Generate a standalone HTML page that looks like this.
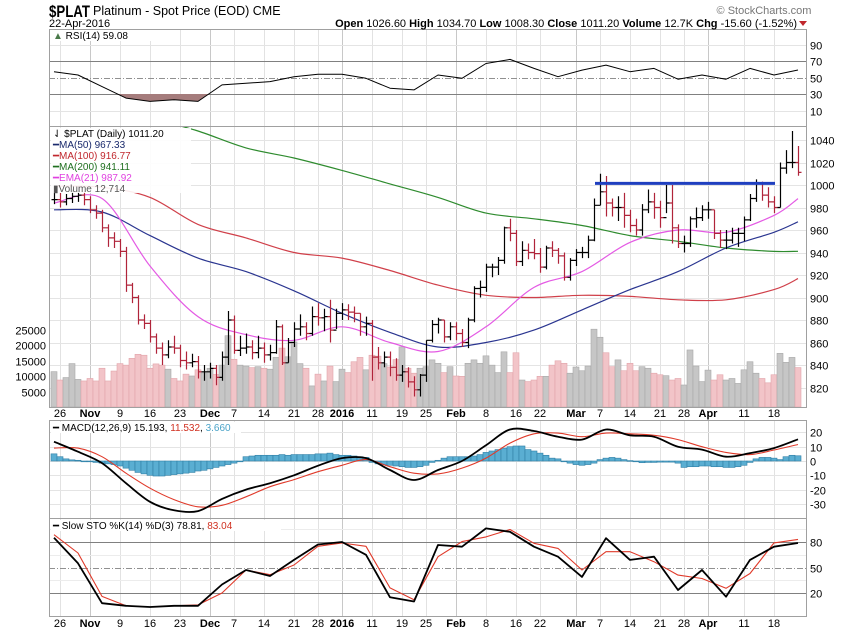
<!DOCTYPE html>
<html><head><meta charset="utf-8"><style>
html,body{margin:0;padding:0;background:#fff;}
svg{display:block;font-family:"Liberation Sans",Arial,sans-serif;}
</style></head><body>
<svg id="chart" width="850" height="633" viewBox="0 0 850 633" xmlns="http://www.w3.org/2000/svg">
<defs>
<clipPath id="pclip"><rect x="49" y="126" width="757" height="281"/></clipPath>
</defs>
<rect width="850" height="633" fill="#fff"/>
<g id="grid"></g>
<g id="marks"></g>
<g id="frames" fill="none" stroke="#a0a0a0" stroke-width="1">
<rect x="49.5" y="29.5" width="757" height="97"/>
<rect x="49.5" y="126.5" width="757" height="281"/>
<rect x="49.5" y="420.5" width="757" height="98"/>
<rect x="49.5" y="518.5" width="757" height="98"/>
</g>
<g>
<text x="49" y="17" font-size="17" font-weight="bold" textLength="41" lengthAdjust="spacingAndGlyphs">$PLAT</text>
<text x="93" y="15" font-size="12.5">Platinum  - Spot Price (EOD)  CME</text>
<text x="49" y="27" font-size="11">22-Apr-2016</text>
<text x="764" y="14" font-size="11" fill="#777" text-anchor="middle">© StockCharts.com</text>
<text x="797" y="27" font-size="11" text-anchor="end"><tspan font-weight="bold">Open</tspan> 1026.60  <tspan font-weight="bold">High</tspan> 1034.70  <tspan font-weight="bold">Low</tspan> 1008.30  <tspan font-weight="bold">Close</tspan> 1011.20  <tspan font-weight="bold">Volume</tspan> 12.7K  <tspan font-weight="bold">Chg</tspan> -15.60 (-1.52%)</text>
<path d="M799 21 L807 21 L803 26 Z" fill="#c0272d"/>
</g>
<g id="legends" font-size="10">
<rect x="51" y="30" width="100" height="11" fill="#fff"/>
<text x="53" y="39"><tspan fill="#4a7a4a">▲</tspan> RSI(14) 59.08</text>
<rect x="51" y="128" width="140" height="65" fill="#fff" opacity="0.9"/>
<text x="53" y="137">⇃ $PLAT (Daily) 1011.20</text>
<text x="53" y="148" fill="#1a2a6c">━MA(50) 967.33</text>
<text x="53" y="159" fill="#c0272d">━MA(100) 916.77</text>
<text x="53" y="170" fill="#1f6f1f">━MA(200) 941.11</text>
<text x="53" y="181" fill="#e040e0">━EMA(21) 987.92</text>
<text x="53" y="192" fill="#555">▮Volume 12,714</text>
<rect x="51" y="422" width="190" height="11" fill="#fff"/>
<text x="53" y="431">━ MACD(12,26,9) 15.193, <tspan fill="#d03020">11.532</tspan>, <tspan fill="#4aa3c8">3.660</tspan></text>
<rect x="51" y="520" width="230" height="11" fill="#fff"/>
<text x="53" y="529">━ Slow STO %K(14) %D(3) 78.81, <tspan fill="#d03020">83.04</tspan></text>
</g>
<g id="axes" font-size="11"></g>
</svg>
<script>
// ---- data ----
const closes = [987,985,988,990,991,987,978,975,962,953,950,941,911,900,880,877,865,855,849,856,855,844,842,843,834,834,837,829,847,880,853,855,856,851,855,849,851,874,842,860,872,874,868,883,882,883,871,886,889,887,886,874,877,847,842,847,838,831,834,825,818,831,862,876,880,865,874,868,860,880,908,909,927,927,933,962,957,932,942,940,939,927,944,942,937,918,933,940,940,951,982,994,984,980,980,973,964,960,978,985,980,971,984,962,948,948,970,971,978,978,957,951,951,957,957,969,988,1002,991,985,980,1015,1020,1020,1011.2];
const highs = [995,993,992,996,998,995,990,982,978,965,958,952,945,913,902,885,880,868,860,862,866,858,852,850,848,840,842,840,852,888,884,866,868,862,866,860,858,880,876,864,878,885,878,892,895,890,898,890,895,894,892,886,883,880,856,852,852,846,840,838,830,832,862,880,882,880,878,878,872,882,910,915,930,930,936,963,970,960,950,948,952,944,946,950,944,940,935,943,945,955,988,1010,1008,988,990,993,978,970,983,996,993,986,1000,1000,965,955,972,980,982,985,978,960,960,962,962,972,992,1005,1003,998,990,1020,1031,1048,1034.7];
const lows = [983,980,982,984,985,982,975,970,958,945,944,936,905,895,876,872,860,850,840,846,850,838,836,838,828,826,828,822,826,840,850,848,850,845,846,842,844,850,840,842,856,866,862,866,875,870,860,872,880,880,878,866,866,826,836,838,830,826,825,820,812,812,825,860,868,860,862,862,856,855,878,900,905,918,920,930,950,928,928,934,934,922,925,936,930,915,915,928,935,935,950,982,972,972,968,962,958,955,955,975,970,962,975,948,944,940,945,962,968,970,952,944,943,948,945,950,968,985,986,980,975,980,1010,1015,1008.3];
const volumes = [11400,8700,9500,14000,8900,8400,9200,8400,12500,8400,11600,14000,13500,15700,17000,16700,12500,13900,13500,12200,9200,8400,10600,10000,12000,11000,12500,10500,13500,23000,15400,13500,13200,12700,13000,12500,12200,16000,19000,16200,21000,14000,12500,6800,10600,8400,13200,8200,12200,11100,14600,16000,12000,16700,16400,14000,12900,15300,19400,12500,10900,12500,13000,15200,14100,11100,13000,10000,9900,14100,15200,14100,16500,13500,11100,17800,11100,17500,8700,8200,8700,9900,9900,13500,14900,14100,10900,12900,11700,13200,25100,22500,17500,13000,15200,11700,14100,11700,13000,12500,10900,10400,10100,8700,9200,7100,18400,13200,8200,11900,8700,10400,8700,9200,7600,12000,14600,10900,9200,7800,10400,17300,14400,16000,12714];
// moving averages sampled every 8 bars (last sample = last bar)
const ma50 = [978,976,955,935,923,906,886,869,856,860,871,889,907,923,944,958,967.33];
const ma100 = [999,998,989,965,953,940,935,924,911,902,900,902,901,898,898,907,916.77];
const ma200 = [1089,1076,1060,1048,1033,1024,1013,1001,989,975,970,964,955,950,944,941,941.11];
const ema21 = [984,988,928,883,867,862,874,860,852,874,909,923,949,960,958,973,987.92];
// indicators sampled every 4 bars
const rsi = [57,53,39,25,21,23,21,41,43,45,51,54,54,49,37,35,53,49,67,72,61,51,59,65,57,61,48,53,48,61,53,59.08];
const macdLine = [13.5,6.5,-1.5,-15.5,-28.5,-34.5,-35,-26.5,-20,-15.5,-10,-3.3,2,2,-6.3,-13.3,-6.3,0,11,22,21,17,15,22,18,17,10,8,3,5.5,9,15.193];
const signalLine = [9,9,3,-8.5,-19,-27,-32,-31,-25,-18,-13,-7.5,-3,1,-4,-8.5,-9,-5,2,12.5,19,19.5,17,19.5,19,18,15,10,6,4.5,7.7,11.532];
const histogram = [5,3,1.5,0.8,0.5,0,-0.5,-1,-1.5,-2,-2.5,-3.5,-5,-6.5,-8,-9,-10,-10.5,-10.5,-10,-9.5,-9,-8.5,-8,-7,-6.5,-5.5,-4.5,-3.5,-2.5,-1.5,0,3,3.5,4,4,4,4,4.5,4,4.5,4.5,4.5,4.5,5,5,5.5,4.5,4,4,3.5,3,2.5,-1,-2,-2.5,-3,-3.5,-4,-4.5,-4.5,-4,-3,-1,0.5,2,3,3,3,3,3.5,4.5,6,7,8,9,10,10.5,10.5,8,7,5.5,4,2,1.5,-0.5,-1.5,-2.5,-3,-2.5,-1.5,1,2,2.5,2,1,0.3,-0.5,-1.2,-1,-1,-0.8,-0.8,-0.8,-1.5,-4.5,-4,-4,-3.5,-3.5,-4,-4,-4.5,-4.5,-4,-3,-1,1.5,2.5,2.5,2,1,3,4,3.66];
const stoK = [85,55,8,5,3.5,5,5,30,47,40,59,77,80,65,15,10,76.5,74.5,96,92,74.5,62.7,39,84.5,59,62.7,23.5,47,15.7,59,74.5,78.81];
const stoD = [88.6,67,16,5,3.5,5,6,20,47,41.5,53,75,78.8,75,26,12,62.7,80.5,86,94.7,78.5,72.5,47,68.6,68.6,56.8,41,37,25.5,43,79,83.04];
const priceTicks = [820,840,860,880,900,920,940,960,980,1000,1020,1040];
const volTicks = [5000,10000,15000,20000,25000];
const rsiTicks = [10,30,50,70,90];
const macdTicks = [-30,-20,-10,0,10,20];
const stoTicks = [20,50,80];
const resistance = 1001.5;
const resistanceFrom = 91, resistanceTo = 122;
const holidays = ["2015-11-26","2015-12-25","2016-01-01","2016-01-18","2016-02-15","2016-03-25"];

// ---- scales ----
const N = closes.length;
const xOf = i => 798 - (N - 1 - i) * 6;
const pY = p => 185 + (1000 - p) * 1.125;
const vY = v => 407 - v * 0.0031;
const rY = v => 77.5 - (v - 50) * 0.825;
const mY = v => 461 - v * 1.43;
const sY = v => 567.5 - (v - 50) * 0.85;
const ma8 = k => Math.min(k * 8, N - 1);
const s4 = k => Math.min(k * 4, N - 1);

const NS = "http://www.w3.org/2000/svg";
function mk(tag, attrs, parent) {
  const e = document.createElementNS(NS, tag);
  for (const k in attrs) e.setAttribute(k, attrs[k]);
  parent.appendChild(e);
  return e;
}
const grid = document.getElementById('grid');
const marks = document.getElementById('marks');
const axes = document.getElementById('axes');

// ---- trading dates ----
const dates = [];
{
  const d = new Date(Date.UTC(2016, 3, 22));
  while (dates.length < N) {
    const wd = d.getUTCDay();
    const s = d.toISOString().slice(0, 10);
    if (wd !== 0 && wd !== 6 && holidays.indexOf(s) < 0) dates.unshift(new Date(d.getTime()));
    d.setUTCDate(d.getUTCDate() - 1);
  }
}
const monthNames = ["Jan","Feb","Mar","Apr","May","Jun","Jul","Aug","Sep","Oct","Nov","Dec"];
const labels = [];
const monthIdx = [];
for (let i = 1; i < N; i++) {
  if (dates[i].getUTCMonth() !== dates[i - 1].getUTCMonth()) monthIdx.push(i);
}
for (let i = 1; i < N; i++) {
  const isMonth = monthIdx.indexOf(i) >= 0;
  const weekStart = dates[i].getUTCDay() < dates[i - 1].getUTCDay();
  if (isMonth) {
    const m = dates[i].getUTCMonth();
    labels.push({i: i, t: m === 0 ? String(dates[i].getUTCFullYear()) : monthNames[m], bold: true});
  } else if (weekStart) {
    if (monthIdx.some(j => Math.abs(j - i) <= 3)) continue;
    labels.push({i: i, t: String(dates[i].getUTCDate()), bold: false});
  }
}

// ---- grid ----
const panels = [[29, 126], [126, 407], [420, 518], [518, 616]];
labels.forEach(l => {
  panels.forEach(p => {
    const g = mk('line', {x1: xOf(l.i) + 0.5, x2: xOf(l.i) + 0.5, y1: p[0], y2: p[1], stroke: l.bold ? '#c8c8c8' : '#e2e2e2'}, grid);
    
    
  });
});
priceTicks.forEach(t => {
  const y = Math.round(pY(t)) + 0.5;
  const g = mk('line', {x1: 49, x2: 806, y1: y, y2: y, stroke: '#e4e4e4'}, grid);
  
  
  const tx = mk('text', {x: 810, y: y + 4, 'font-size': 11}, axes);
  tx.textContent = t;
  
  
});
volTicks.forEach(t => {
  const y = Math.round(vY(t)) + 0.5;
  const tx = mk('text', {x: 46, y: y + 4, 'font-size': 11, 'text-anchor': 'end'}, axes);
  tx.textContent = t;
  
  
});
rsiTicks.forEach(t => {
  const y = Math.round(rY(t)) + 0.5;
  const strong = (t === 30 || t === 70);
  const g = mk('line', {x1: 49, x2: 806, y1: y, y2: y, stroke: strong ? '#808080' : (t === 50 ? '#909090' : '#e4e4e4'), 'stroke-dasharray': t === 50 ? '6,2,1,2' : 'none'}, grid);
  
  
  const tx = mk('text', {x: 810, y: y + 4, 'font-size': 11}, axes);
  tx.textContent = t;
  
  
});
macdTicks.forEach(t => {
  const y = Math.round(mY(t)) + 0.5;
  const g = mk('line', {x1: 49, x2: 806, y1: y, y2: y, stroke: '#e4e4e4'}, grid);
  
  
  const tx = mk('text', {x: 810, y: y + 4, 'font-size': 11}, axes);
  tx.textContent = t;
  
  
});
[35, 65, 95].forEach(t => {
  const y = Math.round(sY(t)) + 0.5;
  mk('line', {x1: 49, x2: 806, y1: y, y2: y, stroke: '#ececec'}, grid);
});
stoTicks.forEach(t => {
  const y = Math.round(sY(t)) + 0.5;
  const g = mk('line', {x1: 49, x2: 806, y1: y, y2: y, stroke: t === 50 ? '#909090' : '#808080', 'stroke-dasharray': t === 50 ? '6,2,1,2' : 'none'}, grid);
  
  
  const tx = mk('text', {x: 810, y: y + 4, 'font-size': 11}, axes);
  tx.textContent = t;
  
  
});
// date labels
labels.forEach(l => {
  [417, 627].forEach(y => {
    const tx = mk('text', {x: xOf(l.i), y: y, 'font-size': 11, 'text-anchor': 'middle', 'font-weight': l.bold ? 'bold' : 'normal'}, axes);
    tx.textContent = l.t;
    
    
  });
});

// ---- helpers ----
function line(vals, idxFn, yFn, color, width, parent, name) {
  const pts = vals.map((v, k) => xOf(idxFn(k)) + ',' + yFn(v).toFixed(1)).join(' ');
  const l = mk('polyline', {points: pts, fill: 'none', stroke: color, 'stroke-width': width, 'stroke-linejoin': 'round'}, parent);
  
  
  return l;
}
function curve(vals, idxFn, yFn, color, width, parent, name) {
  const p = vals.map((v, k) => [xOf(idxFn(k)), yFn(v)]);
  let d = 'M' + p[0][0] + ' ' + p[0][1].toFixed(1);
  for (let k = 0; k < p.length - 1; k++) {
    const p0 = p[Math.max(0, k - 1)], p1 = p[k], p2 = p[k + 1], p3 = p[Math.min(p.length - 1, k + 2)];
    const c1x = p1[0] + (p2[0] - p0[0]) / 6, c1y = p1[1] + (p2[1] - p0[1]) / 6;
    const c2x = p2[0] - (p3[0] - p1[0]) / 6, c2y = p2[1] - (p3[1] - p1[1]) / 6;
    d += 'C' + c1x.toFixed(1) + ' ' + c1y.toFixed(1) + ' ' + c2x.toFixed(1) + ' ' + c2y.toFixed(1) + ' ' + p2[0] + ' ' + p2[1].toFixed(1);
  }
  const l = mk('path', {d: d, fill: 'none', stroke: color, 'stroke-width': width}, parent);
  
  
  return l;
}

// ---- price panel ----
const pg = mk('g', {'clip-path': 'url(#pclip)'}, marks);
for (let i = 0; i < N; i++) {
  const down = i > 0 && closes[i] < closes[i - 1];
  const r = mk('rect', {x: xOf(i) - 3, y: vY(volumes[i]), width: 6, height: 407 - vY(volumes[i]), fill: down ? '#f2c4c8' : '#c6c6c6', stroke: down ? '#e2a4aa' : '#a8a8a8', 'stroke-width': 0.6}, pg);
  
  
}
curve(ma200, ma8, pY, '#2e8b2e', 1.2, pg, 'ma200-line');
curve(ma100, ma8, pY, '#d0404a', 1.2, pg, 'ma100-line');
curve(ma50, ma8, pY, '#2a3590', 1.2, pg, 'ma50-line');
curve(ema21, ma8, pY, '#e45ae4', 1.2, pg, 'ema21-line');
for (let i = 0; i < N; i++) {
  const down = i > 0 && closes[i] < closes[i - 1];
  const col = down ? '#b0243a' : '#000';
  const x = xOf(i) + 0.5;
  const open = i > 0 ? closes[i - 1] : closes[i];
  const b = mk('path', {d: 'M' + x + ' ' + pY(highs[i]).toFixed(1) + 'V' + pY(lows[i]).toFixed(1) + 'M' + (x - 3) + ' ' + pY(open).toFixed(1) + 'H' + x + 'M' + x + ' ' + pY(closes[i]).toFixed(1) + 'H' + (x + 3), stroke: col, 'stroke-width': 1.2, fill: 'none'}, pg);
  
  
}
const rl = mk('line', {x1: xOf(resistanceFrom) - 5, x2: xOf(resistanceTo) - 11, y1: pY(resistance), y2: pY(resistance), stroke: '#1f3fbf', 'stroke-width': 3}, pg);



// ---- RSI ----
{
  const pts = rsi.map((v, k) => [xOf(s4(k)), rY(v)]);
  let d = '';
  const y30 = rY(30);
  for (let k = 0; k < pts.length - 1; k++) {
    const a = rsi[k], b = rsi[k + 1];
    if (a < 30 || b < 30) {
      const [x0, y0] = pts[k], [x1, y1] = pts[k + 1];
      let xs = x0, xe = x1;
      if (a >= 30) xs = x0 + (x1 - x0) * (a - 30) / (a - b);
      if (b >= 30) xe = x0 + (x1 - x0) * (30 - a) / (b - a);
      const ya = a < 30 ? y0 : y30, yb = b < 30 ? y1 : y30;
      d += 'M' + xs + ' ' + y30 + 'L' + xs + ' ' + ya + 'L' + xe + ' ' + yb + 'L' + xe + ' ' + y30 + 'Z';
    }
  }
  const f = mk('path', {d: d, fill: '#a57c7c', stroke: 'none'}, marks);
  
  
  line(rsi, s4, rY, '#000', 1, marks, 'rsi-line');
}

// ---- MACD ----
for (let i = 0; i < N; i++) {
  const v = histogram[i];
  const y0 = mY(0), y1 = mY(v);
  const r = mk('rect', {x: xOf(i) - 3, y: Math.min(y0, y1), width: 6, height: Math.max(0.8, Math.abs(y1 - y0)), fill: '#5aaed2', stroke: '#2f7fa6', 'stroke-width': 0.6}, marks);
  
  
}
curve(signalLine, s4, mY, '#e03a2a', 1.1, marks, 'macd-signal-line');
curve(macdLine, s4, mY, '#000', 1.8, marks, 'macd-line');

// ---- Slow Stochastic ----
line(stoD, s4, sY, '#e03a2a', 1.1, marks, 'sto-d-line');
line(stoK, s4, sY, '#000', 1.8, marks, 'sto-k-line');
</script>
</body></html>
